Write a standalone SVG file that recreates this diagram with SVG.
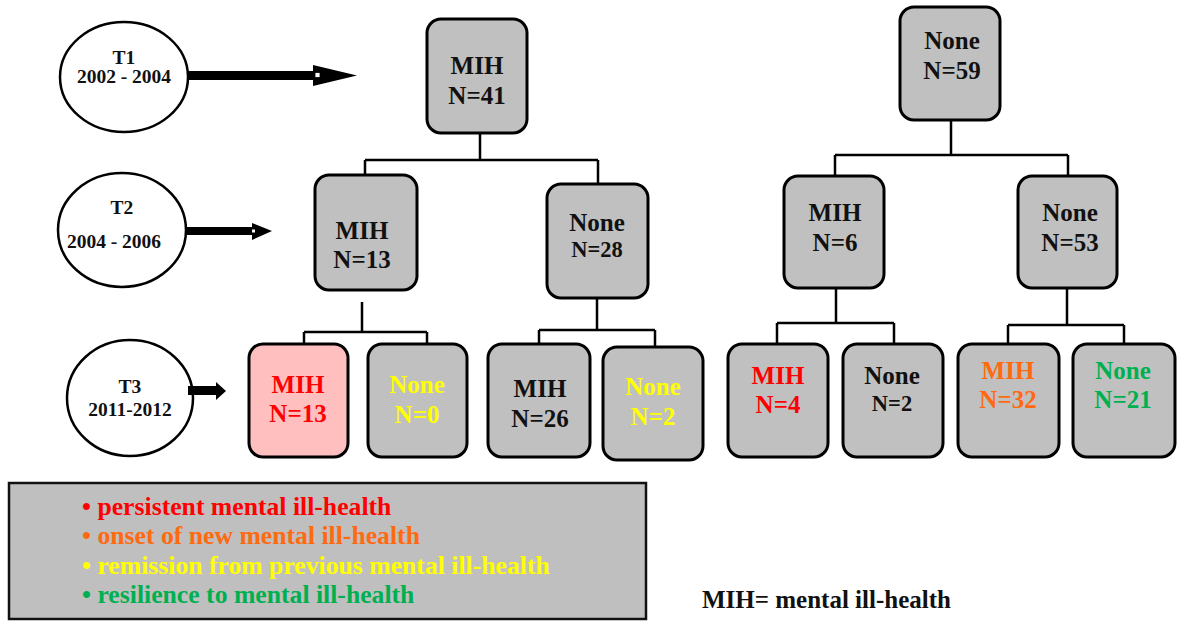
<svg xmlns="http://www.w3.org/2000/svg" width="1185" height="621" viewBox="0 0 1185 621" font-family="'Liberation Serif', 'Times New Roman', 'DejaVu Serif', serif" font-weight="bold">
  <style>
    text { text-anchor: middle; }
    .box { fill: #c0c0c0; stroke: #000; stroke-width: 3; }
    .pink { fill: #ffbfbf; }
    .era { fill: #fff; stroke: #000; stroke-width: 2.5; }
    .lbl { font-size: 25px; fill: #111; }
    .n2 { font-size: 22.5px; }
    .era-t { font-size: 19.5px; fill: #111; }
    .wire { fill: none; stroke: #000; stroke-width: 2.5; }
    .red { fill: #ff0000; }
    .orange { fill: #ff6a10; }
    .yellow { fill: #ffff00; }
    .green { fill: #00b050; }
    .legend { text-anchor: start; font-size: 25.7px; }
  </style>

  <!-- time-point ellipses with arrows -->
  <g id="t1">
    <ellipse class="era" cx="124" cy="77" rx="64" ry="55"/>
    <text class="era-t" x="124" y="64">T1</text>
    <text class="era-t" x="124" y="83">2002 - 2004</text>
    <rect x="187" y="71" width="128" height="9" fill="#000"/>
    <polygon points="313,65 357,75.5 313,86" fill="#000"/>
    <rect x="315" y="72.5" width="5" height="5" fill="#fff" stroke="#000" stroke-width="0.8"/>
  </g>
  <g id="t2">
    <ellipse class="era" cx="122" cy="230" rx="64" ry="57"/>
    <text class="era-t" x="122" y="214">T2</text>
    <text class="era-t" x="114" y="248">2004 - 2006</text>
    <rect x="187" y="227" width="66" height="8" fill="#000"/>
    <polygon points="252,223 272,231 252,240" fill="#000"/>
    <rect x="252" y="229.5" width="3" height="3" fill="#fff"/>
  </g>
  <g id="t3">
    <ellipse class="era" cx="130" cy="398" rx="63" ry="58"/>
    <text class="era-t" x="130" y="393">T3</text>
    <text class="era-t" x="130" y="416">2011-2012</text>
    <rect x="188" y="386" width="30" height="9" fill="#000"/>
    <polygon points="216,382 226,391 216,400" fill="#000"/>
  </g>

  <!-- tree connectors -->
  <g id="connectors" class="wire">
    <path d="M480,133 V160 M365,160 H598 M365,160 V175 M598,160 V184"/>
    <path d="M362,302 V332 M304,332 H427 M304,332 V344 M427,332 V344"/>
    <path d="M597,298 V330 M539,330 H655 M539,330 V344 M655,330 V347"/>
    <path d="M951,120 V155 M835,155 H1068 M835,155 V176 M1068,155 V176"/>
    <path d="M836,288 V323 M777,323 H894 M777,323 V344 M894,323 V344"/>
    <path d="M1067,288 V325 M1008,325 H1124 M1008,325 V344 M1124,325 V344"/>
  </g>

  <!-- T1 nodes -->
  <g id="mih41">
    <rect class="box" x="427" y="19" width="100" height="114" rx="14"/>
    <text class="lbl" x="477" y="74">MIH</text>
    <text class="lbl" x="477" y="104">N=41</text>
  </g>
  <g id="none59">
    <rect class="box" x="900" y="7" width="100" height="113" rx="14"/>
    <text class="lbl" x="952" y="49">None</text>
    <text class="lbl" x="952" y="79">N=59</text>
  </g>

  <!-- T2 nodes -->
  <g id="mih13-t2">
    <rect class="box" x="315" y="175" width="102" height="115" rx="14"/>
    <text class="lbl" x="362" y="239">MIH</text>
    <text class="lbl" x="362" y="268">N=13</text>
  </g>
  <g id="none28">
    <rect class="box" x="547" y="184" width="101" height="114" rx="14"/>
    <text class="lbl" x="597" y="231">None</text>
    <text class="lbl n2" x="597" y="257">N=28</text>
  </g>
  <g id="mih6">
    <rect class="box" x="784" y="176" width="100" height="112" rx="14"/>
    <text class="lbl" x="835" y="221">MIH</text>
    <text class="lbl" x="835" y="251">N=6</text>
  </g>
  <g id="none53">
    <rect class="box" x="1018" y="176" width="99" height="112" rx="14"/>
    <text class="lbl" x="1070" y="221">None</text>
    <text class="lbl" x="1070" y="251">N=53</text>
  </g>

  <!-- T3 nodes -->
  <g id="mih13-t3">
    <rect class="box pink" x="249" y="344" width="99" height="113" rx="14"/>
    <text class="lbl red" x="298" y="393">MIH</text>
    <text class="lbl red" x="298" y="422">N=13</text>
  </g>
  <g id="none0">
    <rect class="box" x="368" y="344" width="99" height="113" rx="14"/>
    <text class="lbl yellow" x="417" y="393">None</text>
    <text class="lbl yellow" x="417" y="423">N=0</text>
  </g>
  <g id="mih26">
    <rect class="box" x="488" y="344" width="102" height="113" rx="14"/>
    <text class="lbl" x="540" y="397">MIH</text>
    <text class="lbl" x="540" y="427">N=26</text>
  </g>
  <g id="none2a">
    <rect class="box" x="603" y="347" width="100" height="113" rx="14"/>
    <text class="lbl yellow" x="653" y="395">None</text>
    <text class="lbl yellow" x="653" y="425">N=2</text>
  </g>
  <g id="mih4">
    <rect class="box" x="728" y="344" width="100" height="113" rx="14"/>
    <text class="lbl red" x="778" y="384">MIH</text>
    <text class="lbl red" x="778" y="413">N=4</text>
  </g>
  <g id="none2b">
    <rect class="box" x="843" y="344" width="100" height="113" rx="14"/>
    <text class="lbl" x="892" y="384">None</text>
    <text class="lbl n2" x="892" y="411">N=2</text>
  </g>
  <g id="mih32">
    <rect class="box" x="958" y="344" width="101" height="113" rx="14"/>
    <text class="lbl orange" x="1008" y="379">MIH</text>
    <text class="lbl orange" x="1008" y="408">N=32</text>
  </g>
  <g id="none21">
    <rect class="box" x="1073" y="344" width="102" height="113" rx="14"/>
    <text class="lbl green" x="1123" y="379">None</text>
    <text class="lbl green" x="1123" y="408">N=21</text>
  </g>

  <!-- legend -->
  <g id="legend">
    <rect x="9" y="483" width="637" height="136" fill="#bfbfbf" stroke="#111" stroke-width="2.5"/>
    <text class="legend red" x="82" y="515">• persistent mental ill-health</text>
    <text class="legend orange" x="82" y="544">• onset of new mental ill-health</text>
    <text class="legend yellow" x="82" y="574">• remission from previous mental ill-health</text>
    <text class="legend green" x="82" y="603">• resilience to mental ill-health</text>
  </g>
  <text id="abbr" x="702" y="608" style="text-anchor:start;font-size:25px;fill:#111">MIH= mental ill-health</text>
</svg>
